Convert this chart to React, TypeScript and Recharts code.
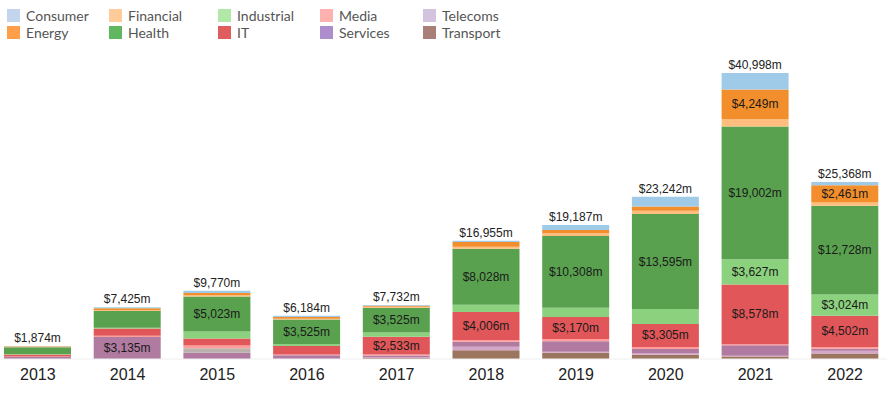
import { Bar, BarChart, LabelList, Legend, XAxis, YAxis } from "recharts";

const years = ["2013", "2014", "2015", "2016", "2017", "2018", "2019", "2020", "2021", "2022"];
const totals = [1874, 7425, 9770, 6184, 7732, 16955, 19187, 23242, 40998, 25368];

// sector values ($m)
const transport = [0, 0, 0, 0, 150, 1250, 900, 620, 370, 803];
const telecoms = [0, 0, 0, 0, 150, 520, 140, 240, 82, 380];
const services = [320, 3135, 897, 550, 200, 720, 1500, 570, 1530, 290];
const other = [0, 0, 650, 0, 0, 0, 0, 0, 0, 0];
const media = [40, 200, 400, 100, 150, 240, 319, 290, 120, 240];
const it = [300, 1050, 1000, 1200, 2533, 4006, 3170, 3305, 8578, 4502];
const industrial = [60, 90, 1000, 280, 620, 1050, 1300, 2150, 3627, 3024];
const health = [950, 2400, 5023, 3525, 3525, 8028, 10308, 13595, 19002, 12728];
const financial = [80, 100, 150, 99, 150, 281, 400, 470, 1060, 470];
const energy = [90, 300, 350, 280, 150, 670, 450, 620, 4249, 2461];
const consumer = [34, 150, 300, 150, 104, 190, 700, 1382, 2380, 470];

// bottom of the stack first
const series = [
  { key: "Transport", values: transport, fill: "#9c755f", legend: "#8c564b" },
  { key: "Telecoms", values: telecoms, fill: "#d4a6c8", legend: "#c5b0d5" },
  { key: "Services", values: services, fill: "#b07aa1", legend: "#9467bd" },
  { key: "Other", values: other, fill: "#bab0ac", legend: "" },
  { key: "Media", values: media, fill: "#ff9d9a", legend: "#ff9896" },
  { key: "IT", values: it, fill: "#e15759", legend: "#d62728" },
  { key: "Industrial", values: industrial, fill: "#8cd17d", legend: "#98df8a" },
  { key: "Health", values: health, fill: "#59a14f", legend: "#2ca02c" },
  { key: "Financial", values: financial, fill: "#ffbe7d", legend: "#ffbb78" },
  { key: "Energy", values: energy, fill: "#f28e2b", legend: "#ff7f0e" },
  { key: "Consumer", values: consumer, fill: "#a0cbe8", legend: "#aec7e8" },
];

const legendOrder = [
  "Consumer", "Energy", "Financial", "Health", "Industrial",
  "IT", "Media", "Services", "Telecoms", "Transport",
];
const legendCols = [7, 109, 218, 320, 423];

const data = years.map((year, i) => {
  const row: Record<string, string | number> = { year, total: totals[i] };
  series.forEach((s) => {
    row[s.key] = s.values[i];
  });
  return row;
});

const font = "'Liberation Sans', Arial, sans-serif";
const fmt = (v: number) => "$" + v.toLocaleString("en-US") + "m";

function box(props: any) {
  const vb = props.viewBox || {};
  return {
    x: props.x ?? vb.x,
    y: props.y ?? vb.y,
    width: props.width ?? vb.width,
    height: props.height ?? vb.height,
  };
}

function innerLabel(key: string) {
  return (props: any) => {
    const v = data[props.index]?.[key] as number;
    if (!v || v < 2450) return null;
    const { x, y, width, height } = box(props);
    return (
      <text
        x={x + width / 2}
        y={y + height / 2}
        textAnchor="middle"
        dominantBaseline="central"
        fontSize={12}
        fontFamily={font}
        fill="#1a1a1a"
      >
        {fmt(v)}
      </text>
    );
  };
}

function totalLabel(props: any) {
  const { x, y, width } = box(props);
  return (
    <text x={x + width / 2} y={y - 4} textAnchor="middle" fontSize={12} fontFamily={font} fill="#222">
      {fmt(totals[props.index])}
    </text>
  );
}

function SectorLegend() {
  return (
    <div style={{ position: "relative", width: 600, height: 40 }}>
      {legendOrder.map((name, i) => {
        const s = series.find((d) => d.key === name)!;
        const left = legendCols[Math.floor(i / 2)];
        const top = i % 2 === 0 ? 9 : 26;
        return (
          <div key={name} style={{ position: "absolute", left, top, display: "flex", alignItems: "center" }}>
            <span
              style={{
                width: 11,
                height: 11,
                background: s.legend,
                opacity: 0.75,
                border: "1px solid " + s.legend,
                display: "inline-block",
              }}
            />
            <span
              style={{
                marginLeft: 6,
                fontFamily: "Lato, 'Noto Sans', sans-serif",
                fontSize: 14,
                color: "#555",
                lineHeight: "13px",
              }}
            >
              {name}
            </span>
          </div>
        );
      })}
    </div>
  );
}

export default function App() {
  return (
    <div style={{ position: "fixed", left: 0, top: 0, width: 887, height: 394, overflow: "hidden", background: "#fff" }}>
      <div style={{ marginLeft: -7 }}>
        <BarChart width={897} height={394} data={data} margin={{ top: 45, right: 0, bottom: 5, left: 0 }}>
          <XAxis
            dataKey="year"
            axisLine={{ stroke: "#eeeeee" }}
            tickLine={false}
            tickMargin={4}
            height={30}
            interval={0}
            tick={{ fontSize: 16, fontFamily: font, fill: "#222" }}
          />
          <YAxis hide domain={[0, 45000]} />
          <Legend
            layout="horizontal"
            verticalAlign="middle"
            align="center"
            wrapperStyle={{ top: 0, left: 7, width: 600, height: 40 }}
            content={() => <SectorLegend />}
          />
          {series.map((s, i) => (
            <Bar key={s.key} dataKey={s.key} stackId="a" fill={s.fill} barSize={67} isAnimationActive={false}>
              <LabelList dataKey={s.key} content={innerLabel(s.key)} />
              {i === series.length - 1 && <LabelList dataKey={s.key} content={totalLabel} />}
            </Bar>
          ))}
        </BarChart>
      </div>
    </div>
  );
}
